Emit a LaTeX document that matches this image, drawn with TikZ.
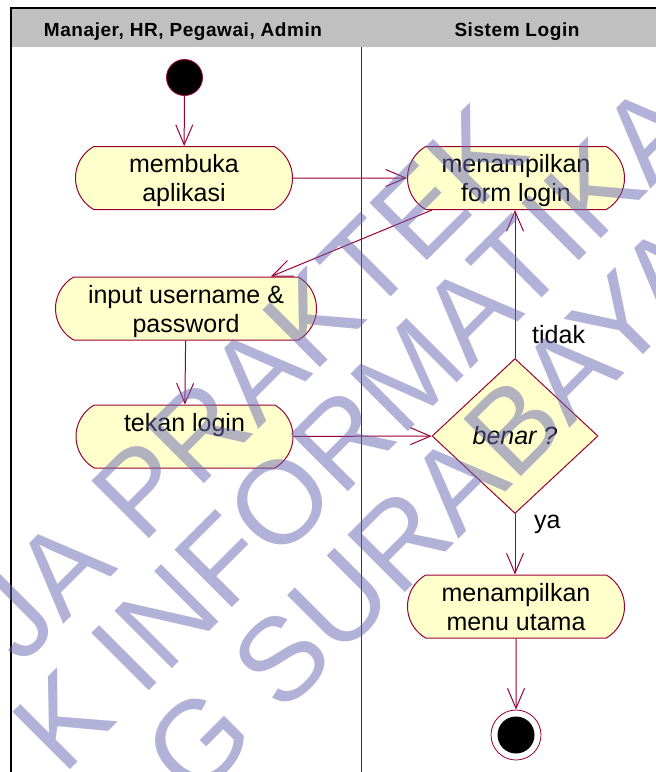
\documentclass[tikz,border=0pt]{standalone}
\usepackage{fontspec}
\setmainfont{Liberation Sans}
\newfontfamily\hdrfont[LetterSpace=3]{Liberation Sans}
\usetikzlibrary{shapes.misc,shapes.geometric,arrows.meta}
\definecolor{lineclr}{RGB}{153,0,51}
\definecolor{fillclr}{RGB}{255,255,204}
\definecolor{hdrgray}{RGB}{192,192,192}
\definecolor{wmclr}{RGB}{103,103,179}
\newcommand{\twolines}[2]{\parbox[c][63pt][t]{10pt}{\centering\rule{0pt}{26pt}\makebox[0pt]{#1}\\\makebox[0pt]{#2}}}
\newcommand{\oneline}[1]{\parbox[c][63pt][t]{10pt}{\centering\rule{0pt}{26pt}\makebox[0pt]{#1}}}
\tikzset{
  act/.style={rounded rectangle, rounded rectangle arc length=120, draw=lineclr, fill=fillclr,
    line width=1pt, minimum width=217pt, minimum height=63pt, inner sep=0pt,
    font=\fontsize{25}{29}\selectfont},
  dia/.style={diamond, draw=lineclr, fill=fillclr, line width=1pt, minimum width=166pt,
    minimum height=155pt, inner sep=0pt, font=\fontsize{25}{29}\selectfont\itshape},
  flow/.style={draw=lineclr, line width=1pt, -{Straight Barb[length=20pt,width=17pt]}},
  startc/.style={circle, draw=lineclr, fill=black, line width=0.8pt, minimum size=36pt, inner sep=0pt},
  endc/.style={circle, draw=lineclr, fill=white, line width=0.8pt, minimum size=50pt, inner sep=0pt},
  lbl/.style={anchor=base west, inner sep=0pt, font=\fontsize{25}{29}\selectfont},
  hdr/.style={anchor=base, inner sep=0pt, font=\hdrfont\bfseries\fontsize{19}{21}\selectfont},
  wm/.style={anchor=base west, rotate=45, inner sep=0pt, text=wmclr, text opacity=0.5,
    font=\fontsize{118}{118}\selectfont}
}
\begin{document}
\begin{tikzpicture}[x=1pt,y=-1pt]
\useasboundingbox (0,0) rectangle (656,772);
\fill[white] (0,0) rectangle (656,772);
% frame and header
\fill[hdrgray] (11.75,9) rectangle (656,47);
\draw[black, line width=2pt] (10,8) -- (656,8);
\draw[black, line width=1.5pt] (11,8) -- (11,772);
\draw[lineclr, line width=1pt] (361,47) -- (361,772);
\node[hdr] (lane1) at (183,36) {Manajer, HR, Pegawai, Admin};
\node[hdr] (lane2) at (517,36) {Sistem Login};
% nodes
\node[startc] (start) at (184.5,77.5) {};
\node[act] (open) at (184,178) {\twolines{membuka}{aplikasi}};
\node[act] (form) at (516,178) {\twolines{menampilkan}{form login}};
\node[act, minimum width=261pt] (input) at (186,308.5) {\twolines{input username \&}{password}};
\node[act] (press) at (184.5,436.5) {\oneline{tekan login}};
\node[dia] (check) at (515,436) {benar ?};
\node[act] (menu) at (516,606.5) {\twolines{menampilkan}{menu utama}};
\node[endc] (end) at (516,735) {};
\fill[black] (end.center) circle (18.5);
% connectors
\draw[flow] (start) -- (open);
\draw[flow] (open) -- (form);
\draw[flow] ([xshift=-84pt]form.south) -- ([xshift=85pt]input.north);
\draw[flow] (input) -- (press);
\draw[flow] (press) -- (check);
\draw[flow] (check.north) -- (check.north |- form.south);
\draw[flow] (check.south) -- (check.south |- menu.north);
\draw[flow] (menu) -- (end);
\node[lbl] (tidak) at (532,343) {tidak};
\node[lbl] (ya) at (534,528) {ya};
% watermark
\begin{scope}
\clip (0,0) rectangle (656,772);
\node[wm] (wm1) at (21.6,666.4) {JA PRAKTEK};
\node[wm] (wm2) at (62.9,777.1) {K INFORMATIKA};
\node[wm] (wm3) at (194.2,803.8) {G SURABAYA};
\end{scope}
\end{tikzpicture}
\end{document}
